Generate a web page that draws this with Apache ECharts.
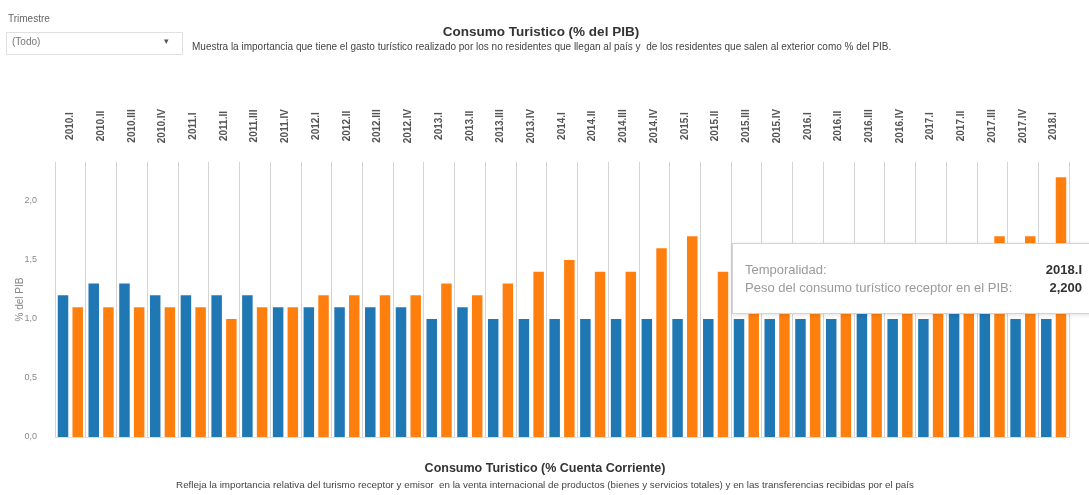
<!DOCTYPE html>
<html><head><meta charset="utf-8">
<script src="https://cdn.jsdelivr.net/npm/echarts@6/dist/echarts.min.js"></script>
<style>html,body{margin:0;padding:0;overflow:hidden;background:#fff}#c{width:1089px;height:495px;position:relative}</style>
</head><body><div id="c"></div>
<script>
const categories = ['2010.I','2010.II','2010.III','2010.IV','2011.I','2011.II','2011.III','2011.IV',
  '2012.I','2012.II','2012.III','2012.IV','2013.I','2013.II','2013.III','2013.IV',
  '2014.I','2014.II','2014.III','2014.IV','2015.I','2015.II','2015.III','2015.IV',
  '2016.I','2016.II','2016.III','2016.IV','2017.I','2017.II','2017.III','2017.IV','2018.I'];
const emisor = [1.2,1.3,1.3,1.2,1.2,1.2,1.2,1.1,1.1,1.1,1.1,1.1,1.0,1.1,1.0,1.0,1.0,1.0,1.0,1.0,1.0,1.0,1.0,1.0,1.0,1.0,1.1,1.0,1.0,1.1,1.1,1.0,1.0];
const receptor = [1.1,1.1,1.1,1.1,1.1,1.0,1.1,1.1,1.2,1.2,1.2,1.2,1.3,1.2,1.3,1.4,1.5,1.4,1.4,1.6,1.7,1.4,1.5,1.6,1.4,1.5,1.6,1.5,1.5,1.6,1.7,1.7,2.2];
const yTickLabels = ['0,0','0,5','1,0','1,5','2,0'];
const tipIndex = 32;

const FF = 'Arial, "Liberation Sans", sans-serif';
const chart = echarts.init(document.getElementById('c'));
chart.setOption({
  animation: false,
  textStyle: {fontFamily: FF},
  grid: {left: 55, right: 20, top: 162, bottom: 58, containLabel: false, outerBoundsMode: 'none'},
  xAxis: {
    type: 'category', position: 'top', data: categories, boundaryGap: true,
    axisLine: {show: true, lineStyle: {color: '#dedede', width: 1}},
    axisTick: {show: false},
    splitLine: {show: true, interval: 0, lineStyle: {color: '#d4d4d4', width: 1}},
    axisLabel: {interval: 0, rotate: 90, align: 'center', verticalAlign: 'middle', margin: 36,
      fontSize: 10, fontWeight: 'bold', color: '#555', fontFamily: FF}
  },
  yAxis: {
    type: 'value', min: 0, max: 2.33, interval: 0.5,
    name: '% del PIB', nameLocation: 'middle', nameGap: 30, nameMoveOverlap: false,
    nameTextStyle: {color: '#888', fontSize: 10, fontFamily: FF},
    axisLine: {show: false}, axisTick: {show: false}, splitLine: {show: false},
    axisLabel: {color: '#888', fontSize: 9, margin: 18, fontFamily: FF,
      formatter: function (v) { const i = Math.round(v / 0.5); return (Math.abs(v - i * 0.5) < 1e-6 && yTickLabels[i]) ? yTickLabels[i] : ''; }}
  },
  tooltip: {
    trigger: 'item', triggerOn: 'none', alwaysShowContent: true,
    position: [732, 243], padding: 0, borderWidth: 1, borderColor: '#d3d3d3', backgroundColor: '#fff',
    transitionDuration: 0, confine: false,
    extraCssText: 'box-shadow:0 1px 4px rgba(0,0,0,0.12);border-radius:0;',
    formatter: function (p) {
      const val = receptor[p.dataIndex].toFixed(3).replace('.', ',');
      return '<div style="width:337px;padding:17px 20px 16px 12px;font:13px ' + FF.replace(/"/g, "'") + ';line-height:18px">' +
        '<div style="display:flex;justify-content:space-between"><span style="color:#9a9a9a">Temporalidad:</span><b style="color:#333">' + categories[p.dataIndex] + '</b></div>' +
        '<div style="display:flex;justify-content:space-between"><span style="color:#9a9a9a">Peso del consumo turístico receptor en el PIB:</span><b style="color:#333">' + val + '</b></div></div>';
    }
  },
  series: [
    {name: 'Peso del consumo turístico emisor en el PIB', type: 'bar', data: emisor, barWidth: 10.5, barGap: '40%',
      itemStyle: {color: '#1f77b4'}, emphasis: {disabled: true}},
    {name: 'Peso del consumo turístico receptor en el PIB', type: 'bar', data: receptor, barWidth: 10.5, barGap: '40%',
      itemStyle: {color: '#ff7f0e'}, emphasis: {disabled: true}}
  ],
  graphic: [
    {type: 'text', left: 8, top: 14, style: {text: 'Trimestre', font: '10px ' + FF, fill: '#666'}},
    {type: 'rect', shape: {x: 6.5, y: 32.5, width: 176, height: 22}, style: {fill: '#fff', stroke: '#e0e0e0', lineWidth: 1}},
    {type: 'text', left: 12, top: 37, style: {text: '(Todo)', font: '10px ' + FF, fill: '#777'}},
    {type: 'text', left: 164, top: 37, style: {text: '▾', font: '9px ' + FF, fill: '#555'}},
    {type: 'text', x: 541, y: 32, style: {text: 'Consumo Turistico (% del PIB)', font: 'bold 13.5px ' + FF, fill: '#333', align: 'center', verticalAlign: 'middle'}},
    {type: 'text', x: 192, y: 47, style: {text: 'Muestra la importancia que tiene el gasto turístico realizado por los no residentes que llegan al país y  de los residentes que salen al exterior como % del PIB.', font: '10px ' + FF, fill: '#444', align: 'left', verticalAlign: 'middle'}},
    {type: 'text', x: 545, y: 469, style: {text: 'Consumo Turistico (% Cuenta Corriente)', font: 'bold 12.5px ' + FF, fill: '#333', align: 'center', verticalAlign: 'middle'}},
    {type: 'text', x: 545, y: 485, style: {text: 'Refleja la importancia relativa del turismo receptor y emisor  en la venta internacional de productos (bienes y servicios totales) y en las transferencias recibidas por el país', font: '9.8px ' + FF, fill: '#444', align: 'center', verticalAlign: 'middle'}}
  ]
});
chart.dispatchAction({type: 'showTip', seriesIndex: 1, dataIndex: tipIndex});
</script></body></html>
